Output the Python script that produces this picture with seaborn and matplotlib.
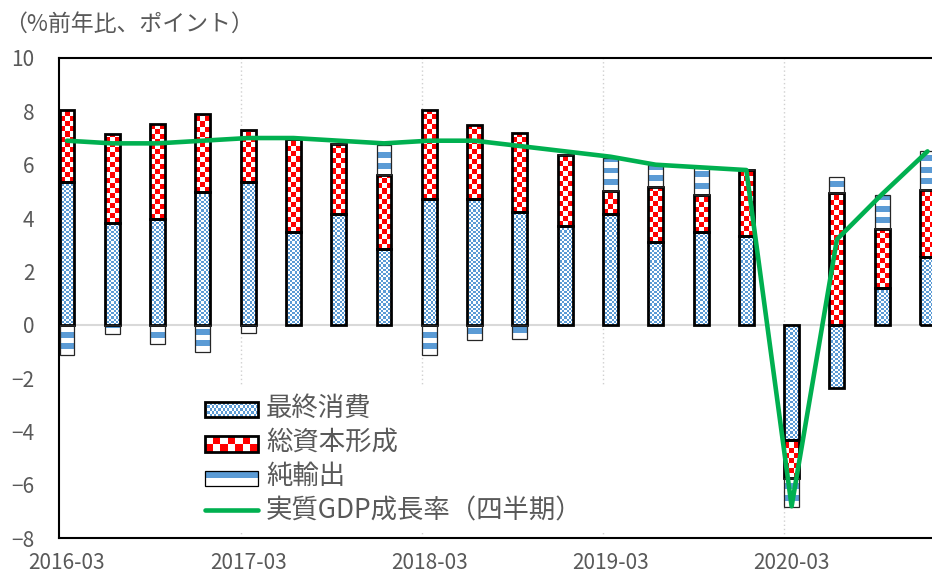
import numpy as np
import pandas as pd
import matplotlib
matplotlib.use("Agg")
import matplotlib.pyplot as plt
import seaborn as sns
from matplotlib.colors import ListedColormap
from matplotlib.patches import Rectangle
from matplotlib.lines import Line2D

# quarterly contributions to real GDP growth (% y/y, points)
quarters = ["2016-03", "2016-06", "2016-09", "2016-12",
            "2017-03", "2017-06", "2017-09", "2017-12",
            "2018-03", "2018-06", "2018-09", "2018-12",
            "2019-03", "2019-06", "2019-09", "2019-12",
            "2020-03", "2020-06", "2020-09", "2020-12"]
consumption = [5.37, 3.81, 3.96, 4.97, 5.34, 3.47, 4.16, 2.85, 4.71, 4.71,
               4.21, 3.72, 4.16, 3.12, 3.47, 3.31, -4.31, -2.37, 1.37, 2.56]
capital = [2.67, 3.34, 3.58, 2.94, 1.97, 3.50, 2.63, 2.75, 3.33, 2.76,
           2.98, 2.65, 0.84, 2.03, 1.38, 2.50, -1.44, 4.94, 2.23, 2.48]
net_exports = [-1.12, -0.35, -0.72, -1.00, -0.31, 0.0, 0.0, 1.15, -1.12, -0.56,
               -0.52, 0.0, 1.25, 0.85, 1.02, 0.0, -1.06, 0.60, 1.27, 1.46]
gdp = [6.9, 6.8, 6.8, 6.9, 7.0, 7.0, 6.9, 6.8, 6.9, 6.9,
       6.7, 6.5, 6.3, 6.0, 5.9, 5.8, -6.8, 3.2, 4.9, 6.5]
year_ticks = ["2016-03", "2017-03", "2018-03", "2019-03", "2020-03"]
labels = ["最終消費", "総資本形成", "純輸出", "実質GDP成長率（四半期）"]

BLUE = "#5B9BD5"
RED = "#FF0000"
GREEN = "#00B050"
GRAY = "#595959"
BAR_W = 0.33

sns.set_style("white")
plt.rcParams["font.family"] = ["Noto Sans CJK JP", "DejaVu Sans"]

df = pd.DataFrame({"quarter": quarters, "consumption": consumption,
                   "capital": capital, "net_exports": net_exports})

# stacking like Excel: positives upward from 0, negatives downward from 0
pos = np.zeros(len(df))
neg = np.zeros(len(df))
bottoms = {}
for col in ["consumption", "capital", "net_exports"]:
    v = df[col].to_numpy()
    bottoms[col] = np.where(v >= 0, pos, neg)
    pos = pos + np.clip(v, 0, None)
    neg = neg + np.clip(v, None, 0)

fig = plt.figure(figsize=(9.32, 5.74), dpi=100)
ax = fig.add_axes([0.0636, 0.0622, 0.951, 0.8368])

for col in ["consumption", "capital", "net_exports"]:
    sns.barplot(data=df, x="quarter", y=col, bottom=bottoms[col],
                width=BAR_W, errorbar=None, color="white", ax=ax)

cons_bars, cap_bars, nx_bars = ax.containers[:3]

for bars, ec, lw in [(cons_bars, "black", 2.0), (cap_bars, "black", 2.0),
                     (nx_bars, "#262626", 0.9)]:
    for p in bars:
        p.set_facecolor("none")
        p.set_edgecolor(ec)
        p.set_linewidth(lw)


def fill_texture(bars, ncols, cell_h, make, color):
    # pattern image under each bar, clipped to the bar outline
    cmap = ListedColormap(["white", color])
    for p in bars:
        x0, y0 = p.get_x(), p.get_y()
        w, h = p.get_width(), p.get_height()
        if h == 0:
            continue
        lo = min(y0, y0 + h)
        nr = int(np.ceil(abs(h) / cell_h)) + 1
        img = make(nr, ncols)
        im = ax.imshow(img, cmap=cmap, vmin=0, vmax=1, origin="lower",
                       extent=(x0, x0 + w, lo, lo + nr * cell_h),
                       interpolation="nearest", aspect="auto",
                       zorder=p.get_zorder() - 0.05)
        im.set_clip_path(p)


def checker(nr, nc):
    return (np.add.outer(np.arange(nr), np.arange(nc)) + 1) % 2


def stripes(nr, nc):
    return np.repeat((np.arange(nr) % 2)[:, None], nc, axis=1)


fill_texture(cons_bars, 7, 0.08, checker, BLUE)
fill_texture(cap_bars, 3, 0.1875, checker, RED)
fill_texture(nx_bars, 1, 0.2156, stripes, BLUE)

sns.lineplot(x=np.arange(len(gdp)), y=gdp, color=GREEN, linewidth=3.3,
             ax=ax, zorder=4)

# light guides
ax.axhline(0, color="#D9D9D9", lw=1.5, zorder=0.6)
tick_pos = [quarters.index(q) for q in year_ticks]
for t in tick_pos[1:]:
    ax.axvline(t - BAR_W / 2, color="#D0D0D0", lw=1.0, ls=(0, (1, 2)), zorder=0.5)

ax.set_xlim(-0.17, 19.4)
ax.set_ylim(-8, 10)
ax.set_yticks(range(-8, 11, 2))
ax.set_xticks(tick_pos)
ax.set_xticklabels(year_ticks)
ax.set_xlabel("")
ax.set_ylabel("")
ax.tick_params(axis="both", length=0, labelsize=15, colors=GRAY)
ax.tick_params(axis="y", pad=18)
ax.tick_params(axis="x", pad=10)
for side in ["left", "top", "bottom"]:
    ax.spines[side].set_color("black")
    ax.spines[side].set_linewidth(1.5)
ax.spines["right"].set_visible(False)


class PatternHandler:
    def __init__(self, cells, color, lw):
        self.cells = np.asarray(cells)
        self.color = color
        self.lw = lw

    def legend_artist(self, legend, orig_handle, fontsize, handlebox):
        x0, y0 = handlebox.xdescent, handlebox.ydescent
        w, h = handlebox.width, handlebox.height
        tr = handlebox.get_transform()
        nr, nc = self.cells.shape
        handlebox.add_artist(Rectangle((x0, y0), w, h, facecolor="white",
                                       edgecolor="none", transform=tr))
        for r in range(nr):
            for c in range(nc):
                if self.cells[r, c]:
                    handlebox.add_artist(Rectangle(
                        (x0 + c * w / nc, y0 + r * h / nr), w / nc, h / nr,
                        facecolor=self.color, edgecolor="none", transform=tr))
        frame = Rectangle((x0, y0), w, h, facecolor="none", edgecolor="black",
                          lw=self.lw, transform=tr)
        handlebox.add_artist(frame)
        return frame


cons_handle = Rectangle((0, 0), 1, 1)
cap_handle = Rectangle((0, 0), 1, 1)
nx_handle = Rectangle((0, 0), 1, 1)
gdp_handle = Line2D([], [], color=GREEN, lw=3.3)

ax.legend([cons_handle, cap_handle, nx_handle, gdp_handle], labels,
          handler_map={cons_handle: PatternHandler(checker(5, 24), BLUE, 2.0),
                       cap_handle: PatternHandler(checker(2, 7), RED, 2.0),
                       nx_handle: PatternHandler([[0], [1]], BLUE, 0.9)},
          loc="lower left", bbox_to_anchor=(0.1557, 0.012, 0.465, 0.29),
          mode="expand", borderaxespad=0, borderpad=0.3,
          fontsize=19, labelcolor=GRAY, handlelength=2.0, handleheight=0.52,
          handletextpad=0.3, labelspacing=0.28, frameon=True, facecolor="white",
          edgecolor="none", framealpha=1, fancybox=False)

fig.text(0.004, 0.958, "（%前年比、ポイント）", fontsize=16.5, color=GRAY, va="center")

fig.savefig("out.png", dpi=100)
